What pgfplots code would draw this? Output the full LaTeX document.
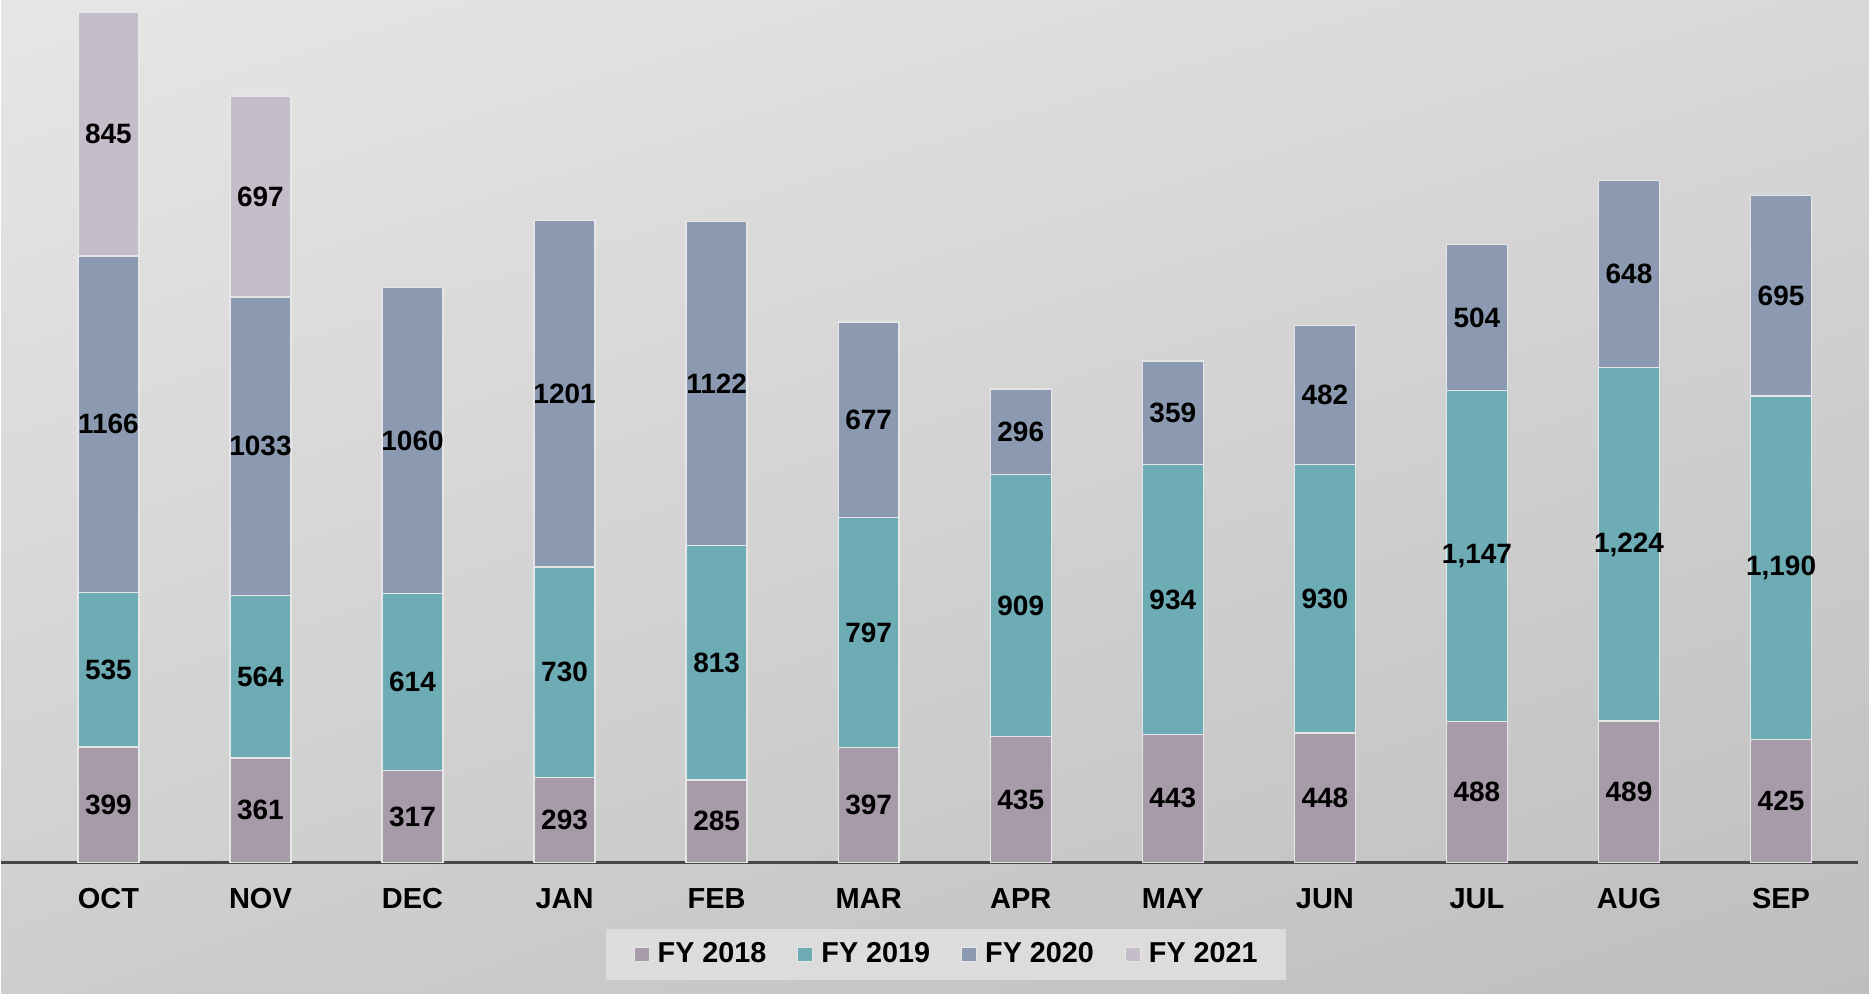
\documentclass[border=0pt]{standalone}
\usepackage{fontspec}
\setmainfont{Liberation Sans}
\usepackage{pgfplots}
\pgfplotsset{compat=1.18}
\usetikzlibrary{shadings}
\definecolor{cA}{HTML}{A79AA9}
\definecolor{cB}{HTML}{6DABB5}
\definecolor{cC}{HTML}{8B9AB0}
\definecolor{cD}{HTML}{C5BDC9}
\definecolor{edge}{HTML}{E6E6E6}
\definecolor{bgUL}{HTML}{E6E6E6}
\definecolor{bgUR}{HTML}{D8D8D8}
\definecolor{bgLL}{HTML}{CECECE}
\definecolor{bgLR}{HTML}{BEBEBE}
\definecolor{legbg}{HTML}{DCDCDC}
\begin{document}
\begin{tikzpicture}
\shade[upper left=bgUL, upper right=bgUR, lower left=bgLL, lower right=bgLR]
  (0,-65.5pt) rectangle (934.5pt,431.5pt);
\begin{axis}[
  scale only axis, width=929pt, height=431.5pt,
  ybar stacked, bar width=30.5pt,
  xmin=-0.703, xmax=11.506, ymin=0, ymax=2987,
  axis x line*=bottom, axis y line=none,
  axis line style={draw=black!72, line width=1.5pt},
  xtick={0,...,11}, major tick length=0pt,
  xticklabels={OCT,NOV,DEC,JAN,FEB,MAR,APR,MAY,JUN,JUL,AUG,SEP},
  xticklabel style={font=\fontsize{14.5}{16}\selectfont\bfseries, anchor=center, yshift=-18pt},
  clip=false,
  point meta=explicit symbolic,
  nodes near coords,
  every node near coord/.append style={font=\fontsize{14}{16}\selectfont\bfseries, text=black, anchor=center,
     inner sep=0pt},
  legend columns=4,
  legend style={at={(0.5086,-0.1066)}, anchor=center, fill=legbg, draw=none,
     font=\fontsize{14.4}{16}\selectfont\bfseries, inner xsep=14pt, inner ysep=7pt,
     nodes={inner sep=0pt},
     /tikz/every odd column/.append style={column sep=4pt},
     /tikz/every even column/.append style={column sep=15.5pt}},
  legend image code/.code={\filldraw[#1, line width=0.5pt] (0pt,-3.5pt) rectangle (7.5pt,3.5pt);},
  every axis plot/.append style={draw=edge, line width=0.7pt},
]
\addplot[fill=cA] coordinates {(0,399)[399] (1,361)[361] (2,317)[317] (3,293)[293] (4,285)[285] (5,397)[397]
  (6,435)[435] (7,443)[443] (8,448)[448] (9,488)[488] (10,489)[489] (11,425)[425]};
\addplot[fill=cB] coordinates {(0,535)[535] (1,564)[564] (2,614)[614] (3,730)[730] (4,813)[813] (5,797)[797]
  (6,909)[909] (7,934)[934] (8,930)[930] (9,1147)[{1,147}] (10,1224)[{1,224}] (11,1190)[{1,190}]};
\addplot[fill=cC] coordinates {(0,1166)[1166] (1,1033)[1033] (2,1060)[1060] (3,1201)[1201] (4,1122)[1122] (5,677)[677]
  (6,296)[296] (7,359)[359] (8,482)[482] (9,504)[504] (10,648)[648] (11,695)[695]};
\addplot[fill=cD] coordinates {(0,845)[845] (1,697)[697]};
\legend{FY 2018,FY 2019,FY 2020,FY 2021}
\end{axis}
\end{tikzpicture}
\end{document}
